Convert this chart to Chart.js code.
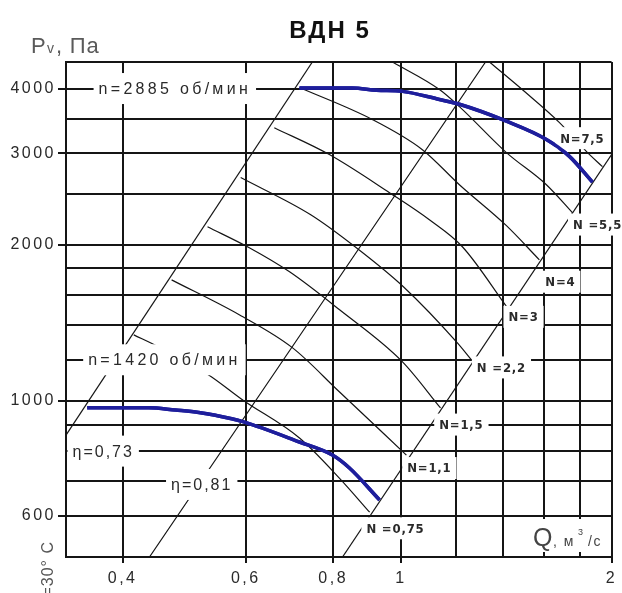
<!DOCTYPE html>
<html>
<head>
<meta charset="utf-8">
<title>ВДН 5</title>
<script src="https://cdn.jsdelivr.net/npm/chart.js@4.4.1/dist/chart.umd.min.js"></script>
<style>
  body { margin: 0; background: #fff; }
</style>
</head>
<body>
<canvas id="fanChart" width="622" height="593"></canvas>
<script>
// сетка осей (логарифмические шкалы)
const xGrid = [0.4, 0.6, 0.8, 1, 1.2, 1.4, 1.6, 1.8, 2];
const xLabeled = [0.4, 0.6, 0.8, 1, 2];
const yGrid = [500, 600, 700, 800, 900, 1000, 1200, 1400, 1600, 1800, 2000, 2500, 3000, 3500, 4000, 4500];
const yLabeled = [600, 1000, 2000, 3000, 4000];

// характеристики вентилятора, Q (м3/с) и Pv (Па)
const q2885 = [0.716, 0.852, 0.923, 1.005, 1.135, 1.212, 1.415, 1.614, 1.741, 1.878];
const p2885 = [4010, 4010, 3970, 3950, 3810, 3730, 3460, 3190, 2960, 2640];
const q1420 = [0.356, 0.436, 0.476, 0.514, 0.543, 0.594, 0.716, 0.798, 0.844, 0.932];
const p1420 = [970, 970, 960, 950, 938, 912, 833, 786, 742, 644];

// лучи КПД
const qEta73 = [0.332, 0.747];
const pEta73 = [859, 4500];
const qEta81 = [0.437, 1.321];
const pEta81 = [500, 4500];
const qEdge = [0.825, 2];
const pEdge = [500, 2984];

// линии мощности N, кВт
const qN075 = [0.415, 0.450, 0.531, 0.594, 0.716, 0.817, 0.902];
const pN075 = [1340, 1271, 1122, 1004, 848, 709, 610];
const qN11 = [0.470, 0.588, 0.700, 0.817, 1.018];
const pN11 = [1711, 1464, 1265, 1040, 786];
const qN15 = [0.529, 0.607, 0.693, 0.817, 1.005, 1.139];
const pN15 = [2166, 1973, 1773, 1498, 1189, 969];
const qN22 = [0.590, 0.743, 0.867, 1.008, 1.204, 1.261];
const pN22 = [2694, 2284, 1964, 1659, 1293, 1199];
const qN3 = [0.659, 0.790, 0.963, 1.098, 1.224, 1.420];
const pN3 = [3362, 2984, 2519, 2234, 1982, 1511];
const qN4 = [0.716, 0.911, 1.073, 1.212, 1.415, 1.577];
const pN4 = [4018, 3483, 3049, 2610, 2176, 1870];
const qN55 = [0.9725, 1.135, 1.212, 1.415, 1.614, 1.759];
const pN55 = [4500, 3982, 3692, 3010, 2610, 2304];
const qN75 = [1.338, 1.502, 1.685, 1.842, 1.941];
const pN75 = [4500, 3947, 3439, 3024, 2828];

// подписи на поле графика
const labelText = ["n=2885 об/мин", "n=1420 об/мин", "η=0,73", "η=0,81",
  "N =0,75", "N=1,1", "N=1,5", "N =2,2", "N=3", "N=4", "N =5,5", "N=7,5"];
const labelQ = [0.475, 0.459, 0.372, 0.519, 0.982, 1.098, 1.22, 1.392, 1.497, 1.69, 1.91, 1.817];
const labelP = [4000, 1200, 800, 690, 568, 742, 900, 1160, 1452, 1697, 2187, 3209];

const FONT = "'Liberation Sans', Arial, sans-serif";
const NARROW = "'Liberation Sans Narrow', 'DejaVu Sans Condensed', Arial, sans-serif";

function pts(qs, ps) {
  return qs.map((q, i) => ({ x: q, y: ps[i] }));
}

function blueLine(qs, ps) {
  return {
    data: pts(qs, ps),
    borderColor: '#1e1e9c',
    borderWidth: 3.5,
    pointRadius: 0,
    cubicInterpolationMode: 'monotone'
  };
}

function thinLine(qs, ps) {
  return {
    data: pts(qs, ps),
    borderColor: '#151515',
    borderWidth: 1.2,
    pointRadius: 0,
    cubicInterpolationMode: 'monotone'
  };
}

const labelsPlugin = {
  id: 'fanLabels',
  beforeDraw(chart) {
    chart.ctx.letterSpacing = '2.5px';
  },
  afterDatasetsDraw(chart) {
    const ctx = chart.ctx;
    const xs = chart.scales.x, ys = chart.scales.y;
    const area = chart.chartArea;
    ctx.save();
    labelText.forEach((txt, i) => {
      const big = i < 4;
      const px = xs.getPixelForValue(labelQ[i]);
      const py = ys.getPixelForValue(labelP[i]);
      ctx.font = big ? '16px ' + FONT : 'bold 13px ' + NARROW;
      ctx.letterSpacing = i < 2 ? '3.3px' : (big ? '2px' : '0.8px');
      const w = ctx.measureText(txt).width + 10;
      const h = big ? 31 : 22;
      let left = Math.max(px - w / 2, area.left + 1.5);
      ctx.fillStyle = '#fff';
      ctx.fillRect(left, py - h / 2, w, h);
      ctx.fillStyle = '#2a2a2a';
      ctx.textAlign = 'left';
      ctx.textBaseline = 'middle';
      ctx.fillText(txt, left + 5, py + 1);
    });
    ctx.restore();
    // синие характеристики поверх подписей
    [0, 1].forEach(i => chart.getDatasetMeta(i).controller.draw());
  },
  afterDraw(chart) {
    const ctx = chart.ctx;
    ctx.save();
    ctx.letterSpacing = '2px';
    ctx.textBaseline = 'alphabetic';
    // заголовок
    ctx.fillStyle = '#111';
    ctx.font = 'bold 24px ' + FONT;
    ctx.textAlign = 'center';
    ctx.fillText('ВДН 5', 330, 38);

    // подпись оси Pv
    ctx.fillStyle = '#5a5a5a';
    ctx.textAlign = 'left';
    ctx.letterSpacing = '0.8px';
    ctx.font = '22px ' + FONT;
    ctx.fillText('P', 31, 53);
    ctx.font = '14px ' + FONT;
    ctx.fillText('v', 47, 53);
    ctx.font = '22px ' + FONT;
    ctx.fillText(', Па', 56, 53);

    // подпись оси Q в белом поле
    ctx.letterSpacing = '0px';
    ctx.fillStyle = '#fff';
    ctx.fillRect(527, 519, 84, 33);
    ctx.fillStyle = '#444';
    ctx.font = '25px ' + FONT;
    ctx.fillText('Q', 533, 546);
    ctx.font = '14px ' + FONT;
    ctx.letterSpacing = '1.5px';
    ctx.fillText(', м', 553, 546);
    ctx.font = '9px ' + FONT;
    ctx.fillText('3', 578, 535);
    ctx.font = '14px ' + FONT;
    ctx.fillText('/с', 588, 546);

    // температура, повернутый текст
    ctx.translate(49, 541);
    ctx.rotate(-Math.PI / 2);
    ctx.font = '16px ' + FONT;
    ctx.letterSpacing = '1px';
    ctx.fillStyle = '#555';
    ctx.textAlign = 'right';
    ctx.textBaseline = 'middle';
    ctx.fillText('t=30° C', 0, 0);
    ctx.restore();
  }
};

const ctx = document.getElementById('fanChart').getContext('2d');

new Chart(ctx, {
  type: 'scatter',
  data: {
    datasets: [
      blueLine(q2885, p2885),
      blueLine(q1420, p1420),
      thinLine(qEta73, pEta73),
      thinLine(qEta81, pEta81),
      thinLine(qEdge, pEdge),
      thinLine(qN075, pN075),
      thinLine(qN11, pN11),
      thinLine(qN15, pN15),
      thinLine(qN22, pN22),
      thinLine(qN3, pN3),
      thinLine(qN4, pN4),
      thinLine(qN55, pN55),
      thinLine(qN75, pN75)
    ].map(d => Object.assign(d, { showLine: true, fill: false }))
  },
  options: {
    responsive: false,
    animation: false,
    events: [],
    layout: { padding: { top: 62, right: 10, left: 0, bottom: 0 } },
    plugins: {
      legend: { display: false },
      tooltip: { enabled: false }
    },
    scales: {
      x: {
        type: 'logarithmic',
        bounds: 'data',
        min: 0.332,
        max: 2,
        afterBuildTicks: scale => { scale.ticks = xGrid.map(v => ({ value: v })); },
        afterFit: scale => { scale.height = 36; },
        grid: {
          color: '#151515',
          lineWidth: 2,
          tickLength: 6,
          tickColor: c => (c.tick && xLabeled.includes(c.tick.value)) ? '#151515' : 'rgba(0,0,0,0)'
        },
        border: { color: '#151515', width: 2 },
        ticks: {
          autoSkip: false,
          maxRotation: 0,
          padding: 6,
          color: '#2a2a2a',
          font: { family: FONT, size: 16 },
          callback: v => xLabeled.includes(v) ? String(v).replace('.', ',') : ''
        }
      },
      y: {
        type: 'logarithmic',
        bounds: 'data',
        min: 500,
        max: 4500,
        afterBuildTicks: scale => { scale.ticks = yGrid.map(v => ({ value: v })); },
        afterFit: scale => { scale.width = 66; },
        grid: {
          color: '#151515',
          lineWidth: 2,
          tickLength: 8,
          tickColor: c => (c.tick && yLabeled.includes(c.tick.value)) ? '#151515' : 'rgba(0,0,0,0)'
        },
        border: { color: '#151515', width: 2 },
        ticks: {
          autoSkip: false,
          padding: 2,
          color: '#2a2a2a',
          font: { family: FONT, size: 16 },
          callback: v => yLabeled.includes(v) ? String(v) : ''
        }
      }
    }
  },
  plugins: [labelsPlugin]
});
</script>
</body>
</html>
